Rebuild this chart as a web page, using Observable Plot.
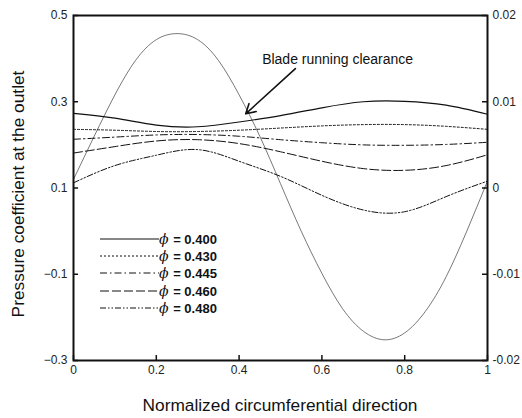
<!DOCTYPE html>
<html><head><meta charset="utf-8">
<script src="https://cdn.jsdelivr.net/npm/d3@7"></script>
<script src="https://cdn.jsdelivr.net/npm/@observablehq/plot@0.6"></script>
<style>
body{margin:0;background:#fff;font-family:"Liberation Sans",Arial,sans-serif;}
#wrap{position:relative;width:522px;height:418px;}
#legend{position:absolute;left:100px;top:230px;font:bold 13px "Liberation Sans",Arial,sans-serif;color:#111;}
#legend .row{display:flex;align-items:center;height:17.3px;}
#legend svg{display:block;}
#legend i{font-weight:normal;font-family:"DejaVu Serif",serif;font-size:14px;margin-right:1px;}
</style></head>
<body><div id="wrap"></div>
<script>
// Data
const xCoarse = [0,0.1,0.2,0.3,0.4,0.5,0.6,0.7,0.8,0.9,1];
const phiLabels = ["0.400","0.430","0.445","0.460","0.480"];
const cp400 = [0.273,0.262,0.246,0.242,0.253,0.268,0.286,0.300,0.301,0.292,0.271];
const cp430 = [0.236,0.234,0.231,0.231,0.234,0.239,0.244,0.247,0.247,0.243,0.236];
const cp445 = [0.213,0.218,0.223,0.224,0.220,0.212,0.205,0.200,0.199,0.201,0.206];
const cp460 = [0.181,0.196,0.209,0.212,0.203,0.184,0.162,0.145,0.141,0.152,0.177];
const cp480 = [0.112,0.152,0.176,0.189,0.162,0.127,0.083,0.049,0.045,0.080,0.116];
const xFine = [0,0.05,0.1,0.15,0.2,0.25,0.3,0.35,0.4,0.45,0.5,0.55,0.6,0.65,0.7,0.75,0.8,0.85,0.9,0.95,1];
const clearance = [0.001,0.006,0.0108,0.0148,0.0172,0.0179,0.0172,0.0148,0.0108,0.006,0.0005,-0.005,-0.0099,-0.0140,-0.0166,-0.0176,-0.0168,-0.0143,-0.0103,-0.0050,0.0008];
const leftTicks = [-0.3,-0.1,0.1,0.3,0.5];
const bottomTicks = [0,0.2,0.4,0.6,0.8,1];
const rightTicks = [-0.02,-0.01,0,0.01,0.02];
const annotationText = ["Blade running clearance"];
const annotationPos = [{x:0.638,y:0.398}];
const arrowPos = [{x1:0.536,y1:0.377,x2:0.416,y2:0.272}];

const series = [cp400,cp430,cp445,cp460,cp480];
const dashes = [null,"2,2","7,3,1.5,3","9,3","6,2,1.5,2,1.5,2"];
const widths = [1.2,1,1,1,1];
// right axis mapping onto left scale: 0.02 -> 0.5, -0.02 -> -0.3
const toLeft = v => 0.1 + v*20;
const rightFmt = d => {const v=Math.round((d-0.1)/20*1000)/1000; return v===0?"0":String(v);};

const W = 522, H = 418, mL = 73, mR = 35, mT = 15, mB = 58, tk = 5;
const pw = W - mL - mR, ph = H - mT - mB;

const lineMarks = series.map((s,i)=>Plot.line(xCoarse.map((x,j)=>({x, y:s[j]})),
  {x:"x", y:"y", curve:"natural", stroke:"#111", strokeWidth:widths[i], strokeDasharray:dashes[i]}));

const chart = Plot.plot({
  width:W, height:H,
  marginLeft:mL, marginRight:mR, marginTop:mT, marginBottom:mB,
  style:{fontFamily:"Liberation Sans, Arial, sans-serif", fontSize:"12px", color:"#222", background:"#fff"},
  x:{domain:[0,1]},
  y:{domain:[-0.3,0.5]},
  marks:[
    Plot.line(xFine.map((x,j)=>({x, y:toLeft(clearance[j])})), {x:"x", y:"y", curve:"natural", stroke:"#555", strokeWidth:0.8}),
    ...lineMarks,
    // labels
    Plot.axisY({anchor:"left", ticks:leftTicks, tickSize:0, tickPadding:6, tickFormat:d=>d3.format(".1f")(d), label:null, fontSize:12}),
    Plot.axisY({anchor:"right", ticks:rightTicks.map(toLeft), tickSize:0, tickPadding:5, tickFormat:rightFmt, label:null, fontSize:12}),
    Plot.axisX({anchor:"bottom", ticks:bottomTicks, tickSize:0, tickPadding:5, tickFormat:d=>String(d), label:null, fontSize:12}),
    // inward ticks
    Plot.ruleY(leftTicks, {insetRight: pw - tk, stroke:"#111", strokeWidth:1.5}),
    Plot.ruleY(rightTicks.map(toLeft), {insetLeft: pw - tk, stroke:"#111", strokeWidth:1.5}),
    Plot.ruleX(bottomTicks, {insetTop: ph - tk, stroke:"#111", strokeWidth:1.5}),
    Plot.text(annotationPos, {x:"x", y:"y", text:()=>annotationText[0], fontSize:14, fill:"#111"}),
    Plot.arrow(arrowPos, {x1:"x1", y1:"y1", x2:"x2", y2:"y2", stroke:"#111", strokeWidth:1.6, headLength:10}),
    Plot.frame({stroke:"#111", strokeWidth:2})
  ]
});
const wrap = document.getElementById("wrap");
wrap.appendChild(chart);

// axis titles
const svg = d3.select(chart);
const xt = svg.append("text").attr("x",280).attr("y",411).attr("text-anchor","middle")
  .attr("font-size","15px").attr("fill","#111").text("Normalized circumferential direction");
const w = xt.node().getComputedTextLength();
const fs = 15*275/w;
xt.attr("font-size", fs+"px");
svg.append("text").attr("transform","translate(24,194) rotate(-90)").attr("text-anchor","middle")
  .attr("font-size",fs+"px").attr("fill","#111").text("Pressure coefficient at the outlet");

// legend
const leg = document.createElement("div"); leg.id="legend";
phiLabels.forEach((lab,i)=>{
  const row = document.createElement("div"); row.className="row";
  row.innerHTML = `<svg width="59" height="10"><line x1="0" y1="5" x2="59" y2="5" stroke="#111" stroke-width="${widths[i]}" ${dashes[i]?`stroke-dasharray="${dashes[i]}"`:""}/></svg><span><i>&#981;</i> = ${lab}</span>`;
  leg.appendChild(row);
});
wrap.appendChild(leg);
</script></body></html>
